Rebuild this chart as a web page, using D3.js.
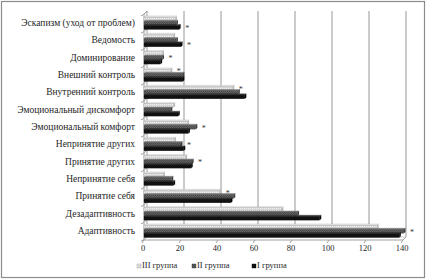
<!DOCTYPE html>
<html>
<head>
<meta charset="utf-8">
<script src="https://cdn.jsdelivr.net/npm/d3@7"></script>
<style>
  body { margin: 0; background: #fff; }
  svg { display: block; font-family: "Liberation Serif", "Times New Roman", serif; }
</style>
</head>
<body>
<div id="chart"></div>
<script>
// categories, top to bottom
const categories = [
  "Эскапизм (уход от проблем)", "Ведомость", "Доминирование", "Внешний контроль",
  "Внутренний контроль", "Эмоциональный дискомфорт", "Эмоциональный комфорт",
  "Непринятие других", "Принятие других", "Непринятие себя", "Принятие себя",
  "Дезадаптивность", "Адаптивность"
]
const seriesNames = ["III группа", "II группа", "I группа"]
const group3 = [17, 16, 10, 14.5, 48, 16, 23.5, 16.5, 22.5, 10.5, 41, 74.5, 126]
const group2 = [17.5, 17.5, 10, 21, 51, 14.5, 28, 20, 26, 15, 48.5, 83, 140.5]
const group1 = [19, 20, 9, 21, 54.5, 18.5, 24, 21.5, 25.5, 16, 47, 95, 138]
const xTicks = [0, 20, 40, 60, 80, 100, 120, 140]
// asterisks: category -> series it sits next to
const marks = [
  ["Эскапизм (уход от проблем)", "I группа"], ["Ведомость", "I группа"],
  ["Доминирование", "II группа"], ["Внешний контроль", "III группа"],
  ["Внутренний контроль", "III группа"], ["Эмоциональный комфорт", "II группа"],
  ["Непринятие других", "II группа"], ["Принятие других", "II группа"],
  ["Принятие себя", "III группа"], ["Адаптивность", "II группа"]
]

const W = 426, H = 279
const depth = 3   // fake 3d offset

const rows = categories.map((c, i) => ({
  cat: c,
  vals: { "III группа": group3[i], "II группа": group2[i], "I группа": group1[i] }
}))

const svg = d3.select("#chart").append("svg").attr("width", W).attr("height", H)

// pattern fills like the excel 3d bars
const defs = svg.append("defs")
const pDot = defs.append("pattern").attr("id", "dots").attr("width", 2).attr("height", 2)
  .attr("patternUnits", "userSpaceOnUse")
pDot.append("rect").attr("width", 2).attr("height", 2).attr("fill", "#d6d6d6")
pDot.append("rect").attr("width", 1).attr("height", 1).attr("fill", "#f0f0f0")
const pChk = defs.append("pattern").attr("id", "checks").attr("width", 2).attr("height", 2)
  .attr("patternUnits", "userSpaceOnUse")
pChk.append("rect").attr("width", 2).attr("height", 2).attr("fill", "#626262")
pChk.append("rect").attr("width", 1).attr("height", 1).attr("fill", "#4a4a4a")
pChk.append("rect").attr("x", 1).attr("y", 1).attr("width", 1).attr("height", 1).attr("fill", "#4a4a4a")

const fills = { "III группа": "url(#dots)", "II группа": "url(#checks)", "I группа": "#111" }
const tops = { "III группа": "#efefef", "II группа": "#8a8a8a", "I группа": "#444" }
const ends = { "III группа": "#b8b8b8", "II группа": "#3c3c3c", "I группа": "#000" }
const strokes = { "III группа": "#9a9a9a", "II группа": "#333", "I группа": "#000" }

// outer frame
svg.append("rect").attr("x", 1.5).attr("y", 1.5).attr("width", W - 3).attr("height", H - 3)
  .attr("fill", "none").attr("stroke", "#8c8c8c").attr("stroke-width", 1.2)

const x = d3.scaleLinear().domain([0, 140]).range([144, 403])
const y = d3.scaleBand().domain(categories).range([14.3, 239.7]).paddingInner(0.26).paddingOuter(0.13)
const ys = d3.scaleBand().domain(seriesNames).range([0, y.bandwidth()])

// back wall gridlines
svg.append("g").selectAll("line").data(xTicks.slice(1)).enter().append("line")
  .attr("x1", d => x(d) + depth).attr("x2", d => x(d) + depth)
  .attr("y1", 11).attr("y2", 240 - depth)
  .attr("stroke", "#a8a8a8").attr("stroke-width", 1.2)

// left wall + floor
const axisCol = "#a0a0a0"
svg.append("line").attr("x1", x(0) + depth).attr("x2", x(0) + depth).attr("y1", 11).attr("y2", 240 - depth)
  .attr("stroke", axisCol)
svg.append("line").attr("x1", x(0)).attr("x2", x(0)).attr("y1", 14).attr("y2", 240)
  .attr("stroke", axisCol)
svg.append("line").attr("x1", x(0)).attr("x2", x(140)).attr("y1", 240).attr("y2", 240)
  .attr("stroke", axisCol)
svg.append("line").attr("x1", x(0) + depth).attr("x2", x(140) + depth).attr("y1", 240 - depth).attr("y2", 240 - depth)
  .attr("stroke", "#c8c8c8")
svg.append("line").attr("x1", x(140)).attr("x2", x(140) + depth).attr("y1", 240).attr("y2", 240 - depth)
  .attr("stroke", axisCol)
svg.append("line").attr("x1", x(0)).attr("x2", x(0) + depth).attr("y1", 14).attr("y2", 11)
  .attr("stroke", axisCol)

// category tick marks on the left wall
const bounds = categories.map(c => y(c) - y.step() * y.paddingInner() / 2).concat([239.7])
svg.append("g").selectAll("path").data(bounds).enter().append("path")
  .attr("d", d => `M${x(0) - 3},${d + 1.5}L${x(0)},${d}L${x(0) + depth},${d - depth}`)
  .attr("fill", "none").attr("stroke", axisCol)

// bars
const bars = svg.append("g")
rows.forEach(r => {
  seriesNames.forEach(s => {
    const y0 = y(r.cat) + ys(s) + 0.6
    const h = ys.bandwidth() - 0.6
    const x0 = x(0), x1 = x(r.vals[s])
    const g = bars.append("g")
    g.append("path")
      .attr("d", `M${x0},${y0}L${x0 + 1.5},${y0 - 1.2}L${x1 + 1.5},${y0 - 1.2}L${x1},${y0}Z`)
      .attr("fill", tops[s]).attr("stroke", strokes[s]).attr("stroke-width", 0.3)
    g.append("path")
      .attr("d", `M${x1},${y0}L${x1 + 1.5},${y0 - 1.2}L${x1 + 1.5},${y0 + h - 1.2}L${x1},${y0 + h}Z`)
      .attr("fill", ends[s])
    g.append("rect").attr("x", x0).attr("y", y0).attr("width", x1 - x0).attr("height", h)
      .attr("fill", fills[s]).attr("stroke", strokes[s]).attr("stroke-width", 0.3)
  })
})

// asterisks
svg.append("g").selectAll("text").data(marks).enter().append("text")
  .attr("x", d => x(rows[categories.indexOf(d[0])].vals[d[1]]) + 8)
  .attr("y", d => y(d[0]) + ys(d[1]) + ys.bandwidth() / 2 + 3.5)
  .attr("text-anchor", "middle").attr("font-size", 8).attr("fill", "#333")
  .text("*")

// category labels
svg.append("g").selectAll("text").data(categories).enter().append("text")
  .attr("x", 135).attr("y", d => y(d) + y.bandwidth() / 2 + 3)
  .attr("text-anchor", "end").attr("font-size", 9.5).attr("fill", "#262626")
  .text(d => d)

// x tick labels with slanted ticks
const xt = svg.append("g")
xt.selectAll("path").data(xTicks).enter().append("path")
  .attr("d", d => `M${x(d) - 2},${243}L${x(d)},${240}`)
  .attr("stroke", axisCol).attr("fill", "none")
xt.selectAll("text").data(xTicks).enter().append("text")
  .attr("x", d => x(d) - 1).attr("y", 251)
  .attr("text-anchor", "middle").attr("font-size", 8.5).attr("fill", "#262626")
  .text(d => d)

// legend
const legX = [137, 192, 252]
const leg = svg.append("g").selectAll("g").data(seriesNames).enter().append("g")
  .attr("transform", (d, i) => `translate(${legX[i]},268)`)
leg.append("rect").attr("x", 0).attr("y", -4).attr("width", 4).attr("height", 4)
  .attr("fill", d => fills[d]).attr("stroke", d => strokes[d]).attr("stroke-width", 0.4)
leg.append("text").attr("x", 5).attr("y", 0).attr("font-size", 8.5).attr("fill", "#262626")
  .text(d => d)
</script>
</body>
</html>
